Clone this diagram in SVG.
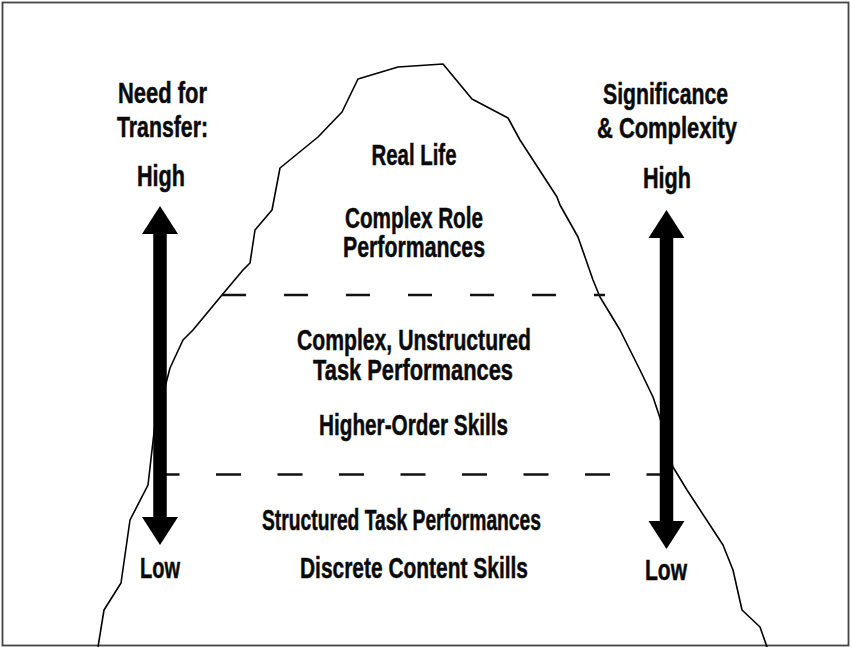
<svg xmlns="http://www.w3.org/2000/svg" width="852" height="647" viewBox="0 0 852 647">
<style>
.t{font-family:"Liberation Sans",Arial,sans-serif;font-weight:bold;font-size:29px;fill:#0a0a0a;stroke:#0a0a0a;stroke-width:0.5;text-anchor:middle}
.dash{stroke:#111;stroke-width:2.6;fill:none}
.shaft{stroke:#000;stroke-width:13.5;fill:none}
.outline{fill:none;stroke:#000;stroke-width:1.6;stroke-linejoin:round}
</style>
<defs>
<marker id="head" markerUnits="userSpaceOnUse" markerWidth="40" markerHeight="40" viewBox="-2 -20 32 40" refX="0" refY="0" orient="auto-start-reverse">
<path d="M-1,-18 L27,0 L-1,18 z" fill="#000"/>
</marker>
</defs>
<rect x="2.5" y="2.5" width="846" height="643" fill="#fff" stroke="#444" stroke-width="1.8"/>
<g id="mountain">
<polyline class="outline" points="98,647 104,610 121,583 130,520 148,485 152,450 156,415 163,395 170,368 183,340 193,330 222,295 243,270 250,263 255,230 272,210 280,168 318,137 342,112 358,79 398,67 443,64 472,99 508,118 520,140 557,197 560,205 578,237 593,280 600,297 620,330 640,370 653,397 660,418 673,467 687,490 723,545 733,570 742,610 760,627 767,647"/>
</g>
<g id="connectors">
<line class="dash" x1="222" y1="295" x2="605" y2="295" stroke-dasharray="24 38"/>
<line class="dash" x1="154.5" y1="474.5" x2="661" y2="474.5" stroke-dasharray="25 36.5"/>
<line class="shaft" x1="160" y1="233" x2="160" y2="518" marker-start="url(#head)" marker-end="url(#head)"/>
<line class="shaft" x1="666.5" y1="237" x2="666.5" y2="522" marker-start="url(#head)" marker-end="url(#head)"/>
</g>
<g id="left-axis">
<text class="t" x="162.5" y="103" textLength="89" lengthAdjust="spacingAndGlyphs">Need for</text>
<text class="t" x="162.5" y="137" textLength="91" lengthAdjust="spacingAndGlyphs">Transfer:</text>
<text class="t" x="161" y="186" textLength="48" lengthAdjust="spacingAndGlyphs">High</text>
<text class="t" x="160" y="578" textLength="40" lengthAdjust="spacingAndGlyphs">Low</text>
</g>
<g id="right-axis">
<text class="t" x="665.5" y="104" textLength="125" lengthAdjust="spacingAndGlyphs">Significance</text>
<text class="t" x="667" y="138" textLength="140" lengthAdjust="spacingAndGlyphs">&amp; Complexity</text>
<text class="t" x="667" y="188" textLength="48" lengthAdjust="spacingAndGlyphs">High</text>
<text class="t" x="666" y="580" textLength="42" lengthAdjust="spacingAndGlyphs">Low</text>
</g>
<g id="tier-top">
<text class="t" x="414" y="165" textLength="85" lengthAdjust="spacingAndGlyphs">Real Life</text>
<text class="t" x="414" y="228" textLength="138" lengthAdjust="spacingAndGlyphs">Complex Role</text>
<text class="t" x="414" y="257" textLength="142" lengthAdjust="spacingAndGlyphs">Performances</text>
</g>
<g id="tier-middle">
<text class="t" x="414" y="350" textLength="234" lengthAdjust="spacingAndGlyphs">Complex, Unstructured</text>
<text class="t" x="413" y="380" textLength="200" lengthAdjust="spacingAndGlyphs">Task Performances</text>
<text class="t" x="413.5" y="435" textLength="189" lengthAdjust="spacingAndGlyphs">Higher-Order Skills</text>
</g>
<g id="tier-bottom">
<text class="t" x="401.5" y="530" textLength="279" lengthAdjust="spacingAndGlyphs">Structured Task Performances</text>
<text class="t" x="414" y="578" textLength="228" lengthAdjust="spacingAndGlyphs">Discrete Content Skills</text>
</g>
</svg>
